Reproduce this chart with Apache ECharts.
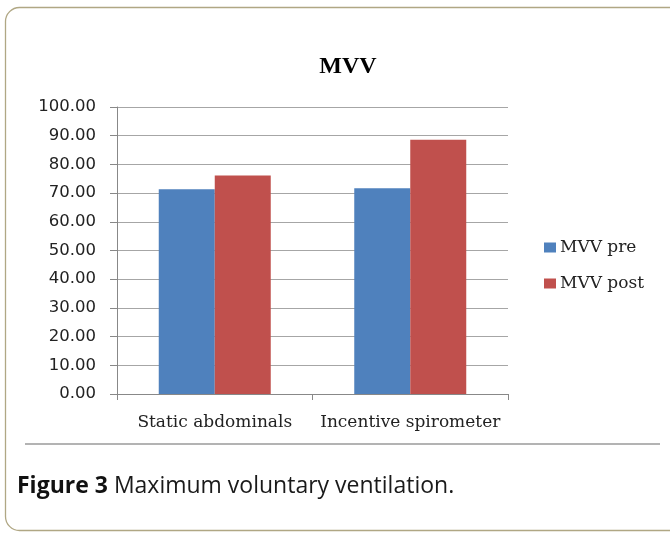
<!DOCTYPE html>
<html><head><meta charset="utf-8">
<script src="https://cdn.jsdelivr.net/npm/echarts@6/dist/echarts.min.js"></script>
<style>html,body{margin:0;padding:0;background:#fff}#c{width:670px;height:536px}</style>
</head><body><div id="c"></div>
<script>
const categories = ['Static abdominals', 'Incentive spirometer'];
const seriesNames = ['MVV pre', 'MVV post'];
const mvvPre = [71.3, 71.7];
const mvvPost = [76.1, 88.6];
const yTicks = [0, 10, 20, 30, 40, 50, 60, 70, 80, 90, 100];

const chart = echarts.init(document.getElementById('c'));
chart.setOption({
  animation: false,
  backgroundColor: '#fff',
  title: {
    text: 'MVV', left: 343, top: 50, textAlign: 'center',
    textStyle: {fontFamily: 'Liberation Serif', fontWeight: 'bold', fontSize: 24, color: '#000'}
  },
  graphic: [
    {type: 'rect', shape: {x: 5.5, y: 7.5, width: 720, height: 523, r: 14},
     style: {fill: 'none', stroke: '#b0a784', lineWidth: 1.3}, z: -1},
    {type: 'line', shape: {x1: 25, y1: 444, x2: 660, y2: 444},
     style: {stroke: '#9a9a9a', lineWidth: 1.6}},
    {type: 'text', left: 17, top: 475,
     style: {text: '{b|Figure 3} Maximum voluntary ventilation.', fontFamily: 'Open Sans', fontSize: 23, fill: '#1a1a1a',
       rich: {b: {fontFamily: 'Open Sans', fontWeight: 'bold', fontSize: 23, fill: '#111'}}}}
  ],
  legend: {
    orient: 'vertical', left: 539, top: 234, itemWidth: 12, itemHeight: 10, itemGap: 19,
    icon: 'rect', data: seriesNames,
    textStyle: {fontFamily: 'DejaVu Serif', fontSize: 17, color: '#222', padding: [0, 0, 0, -1]}
  },
  grid: {left: 117, top: 107, width: 391, height: 287, containLabel: false},
  xAxis: {
    type: 'category', data: categories,
    axisLine: {lineStyle: {color: '#888', width: 1}},
    axisTick: {show: true, interval: 0, length: 6, lineStyle: {color: '#888'}},
    axisLabel: {interval: 0, hideOverlap: false, fontFamily: 'DejaVu Serif', fontSize: 17, color: '#222', margin: 20}
  },
  yAxis: {
    type: 'value', min: 0, max: 100, interval: 10,
    axisLine: {show: true, lineStyle: {color: '#888'}},
    axisTick: {show: true, length: 7, lineStyle: {color: '#888'}},
    splitLine: {lineStyle: {color: '#a6a6a6', width: 1.2}},
    axisLabel: {fontFamily: 'DejaVu Sans', fontSize: 16.5, color: '#222', margin: 21,
      formatter: v => yTicks.includes(v) ? v.toFixed(2) : ''}
  },
  series: [
    {name: seriesNames[0], type: 'bar', data: mvvPre, barWidth: 56, barGap: '0%',
     itemStyle: {color: '#4F81BD'}},
    {name: seriesNames[1], type: 'bar', data: mvvPost, barWidth: 56, barGap: '0%',
     itemStyle: {color: '#C0504D'}}
  ]
});
</script></body></html>
